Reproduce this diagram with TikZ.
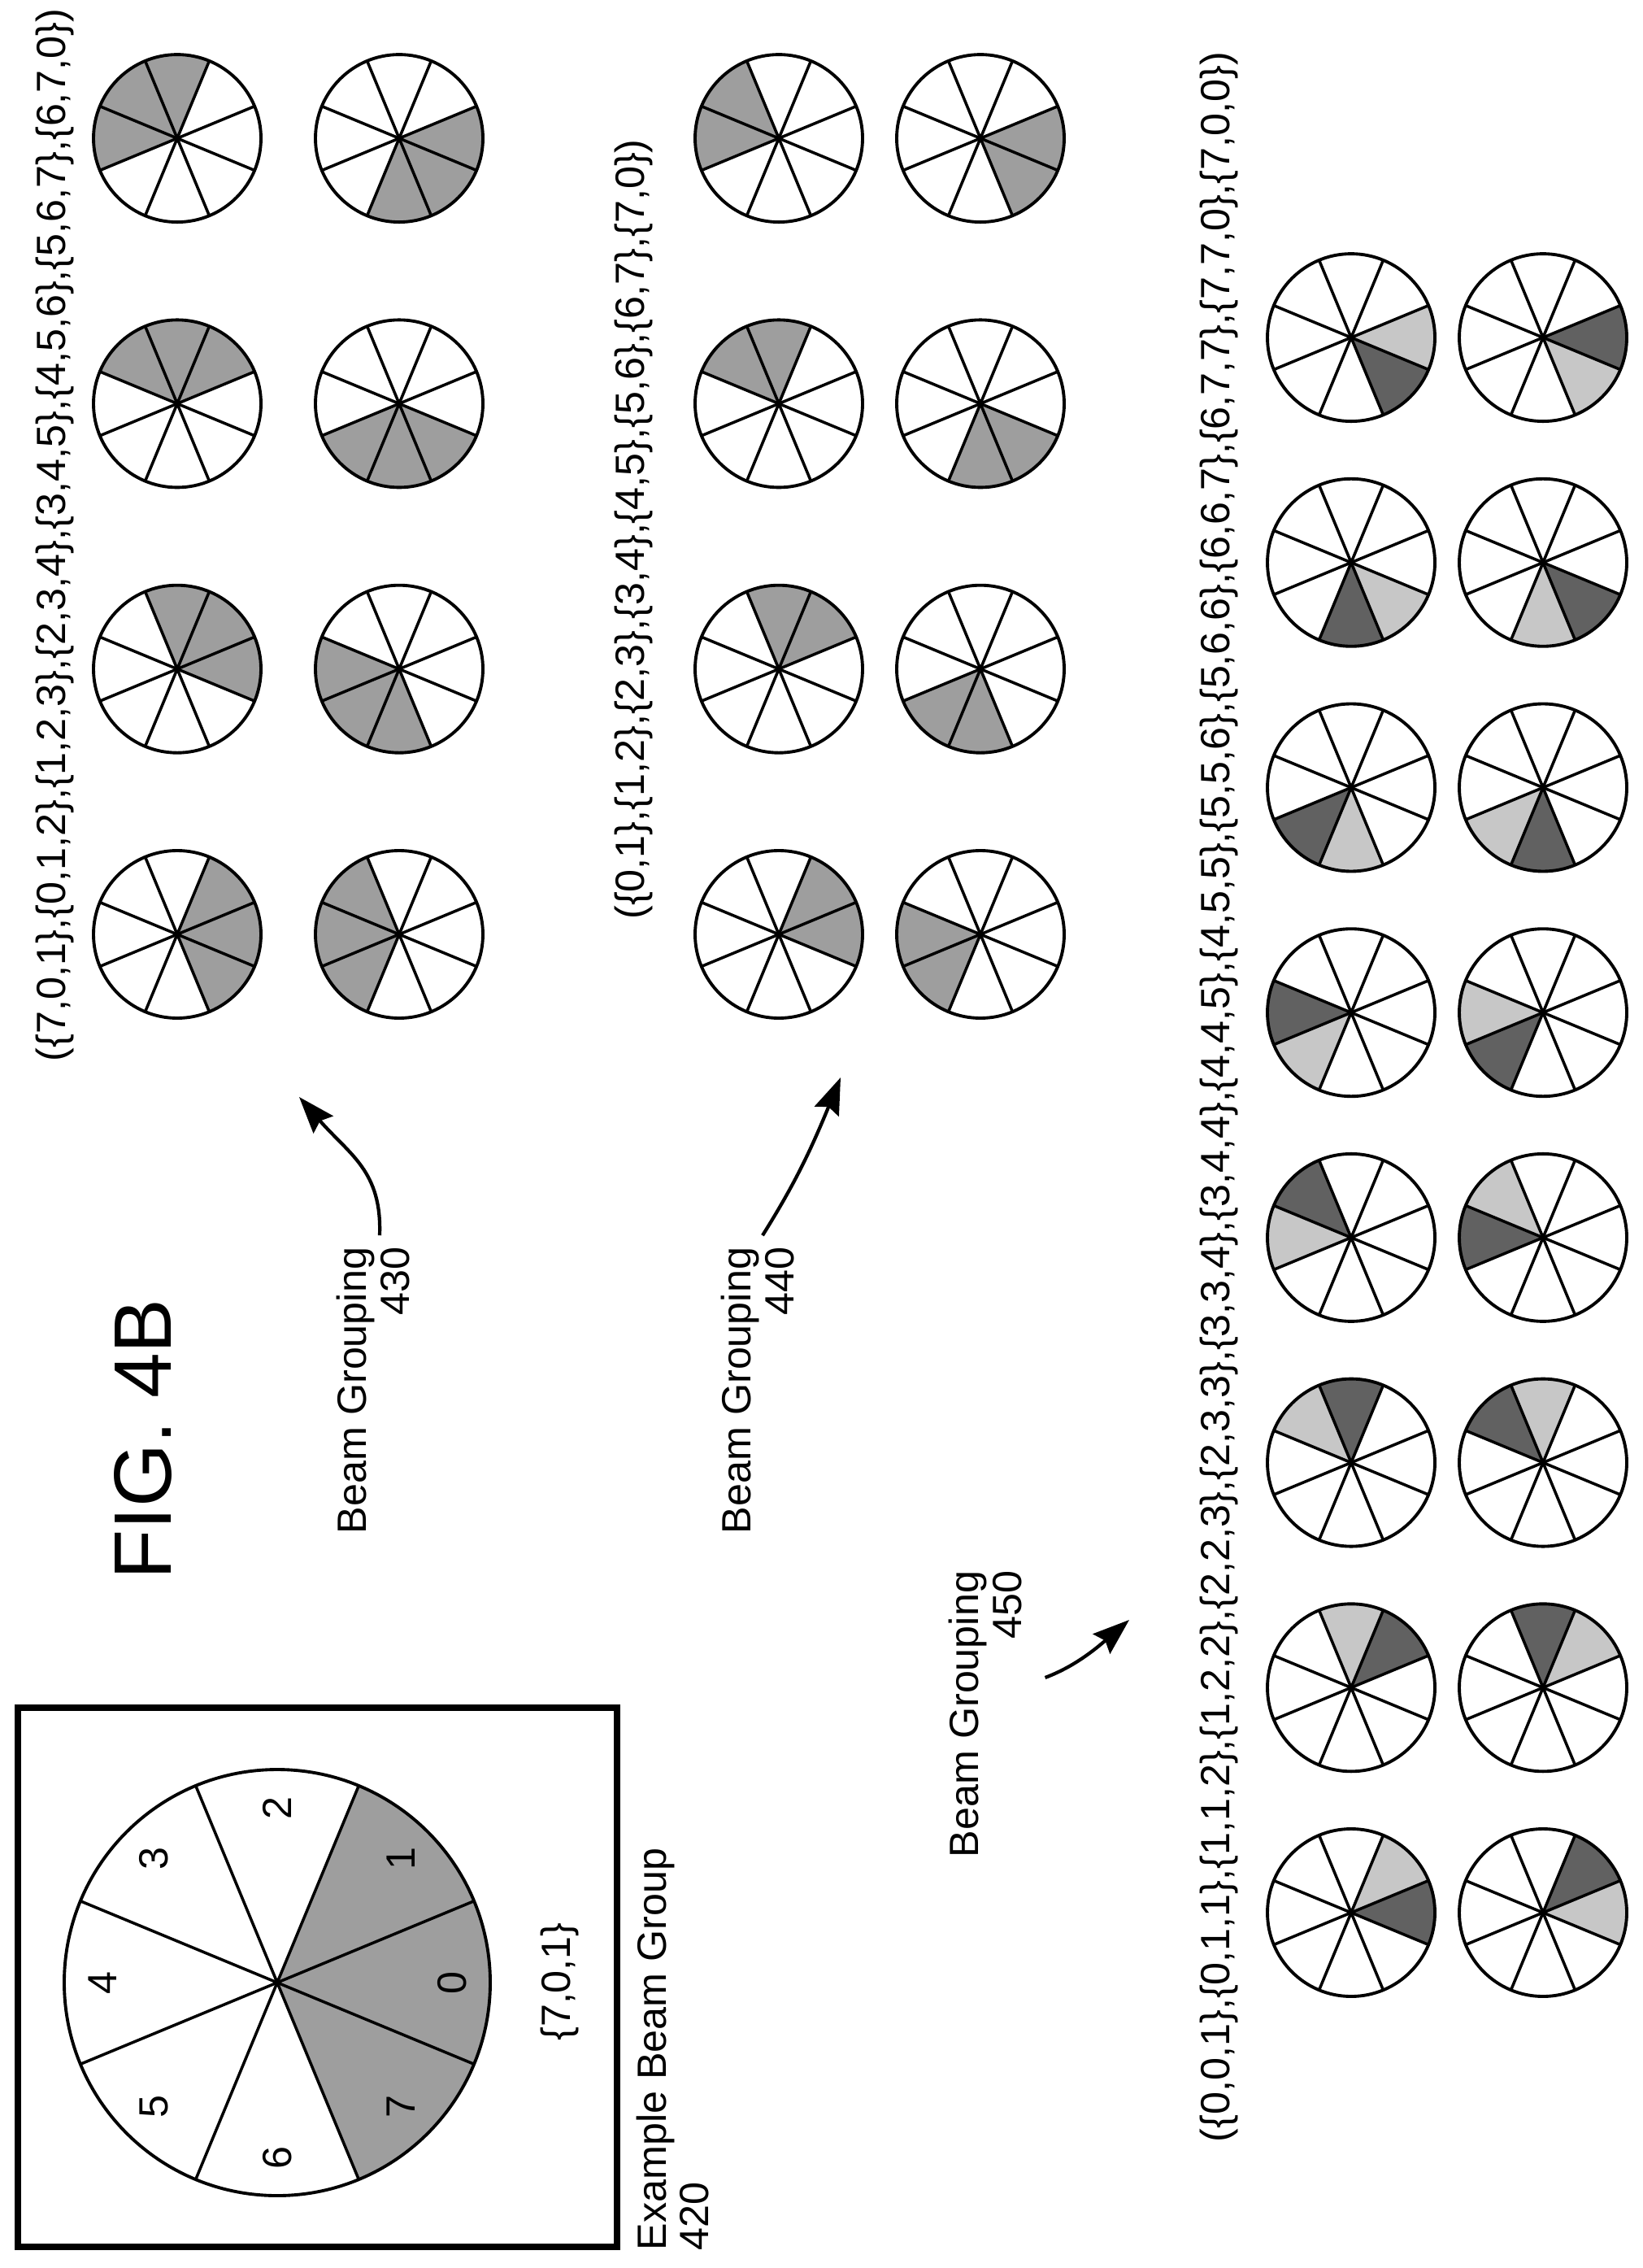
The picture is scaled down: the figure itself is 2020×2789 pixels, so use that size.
\documentclass[tikz,border=0pt]{standalone}
\usepackage{fontspec}
\setmainfont{Liberation Sans}
\usetikzlibrary{arrows.meta,positioning}
\tikzset{
    rim/.style={draw=black,line width=1.1pt},
    spoke/.style={draw=black,line width=1pt},
    mid/.style={fill=black!38},
    dark/.style={fill=black!62},
    light/.style={fill=black!22},
    frame/.style={draw=black,line width=2.3pt},
    label/.style={font=\fontsize{14.3}{15}\selectfont,rotate=90,inner sep=0pt},
    grouptext/.style={label,align=right},
    pointer/.style={line width=1.2pt,-{Stealth[length=4.5mm,width=3.2mm,inset=0.6mm]}},
}
% wheel of eight beams: centre, radius, list of sector/style
\newcommand{\beamwheel}[3]{%
  \begin{scope}[shift={#1},yscale=-1]
    \foreach \bm/\st in {#3}
      \fill[\st] (0,0) -- ({\bm*45-22.5}:#2)
        arc[start angle={\bm*45-22.5},end angle={\bm*45+22.5},radius=#2] -- cycle;
    \foreach \j in {0,...,7}
      \draw[spoke] (0,0) -- ({\j*45+22.5}:#2);
    \draw[rim] (0,0) circle[radius=#2];
  \end{scope}}

\begin{document}
\begin{tikzpicture}[x=0.01cm,y=-0.01cm]
  \useasboundingbox (0,0) rectangle (2020,2789);

  % example beam group
  \draw[frame] (22,2100) rectangle (759,2763);
  \beamwheel{(341,2438)}{262}{7/mid,0/mid,1/mid}
  \foreach \k in {0,...,7}
    \path (341,2438) ++({\k*45}:215 and -215) node[label] {\k};
  \node[label] (set) at (688,2437) {\{7,0,1\}};
  \node[label,align=left,anchor=north west] (ex) at (782,2768) {Example Beam Group\\420};

  \node[label,font=\fontsize{28.5}{30}\selectfont] (fig) at (176,1770) {FIG.\ 4B};

  % beam grouping 430
  \node[label] (l430) at (67,658) {(\{7,0,1\},\{0,1,2\},\{1,2,3\},\{2,3,4\},\{3,4,5\},\{4,5,6\},\{5,6,7\},\{6,7,0\})};
  \foreach \k in {0,...,3} {
    \pgfmathtruncatemacro{\a}{mod(\k+7,8)}
    \pgfmathtruncatemacro{\b}{\k+1}
    \pgfmathtruncatemacro{\c}{\k+3}
    \pgfmathtruncatemacro{\d}{\k+4}
    \pgfmathtruncatemacro{\e}{mod(\k+5,8)}
    \pgfmathsetmacro{\y}{1149-326.3*\k}
    \beamwheel{(218,\y)}{103}{\a/mid,\k/mid,\b/mid}
    \beamwheel{(491,\y)}{103}{\c/mid,\d/mid,\e/mid}
  }

  % beam grouping 440
  \node[label] (l440) at (779,651) {(\{0,1\},\{1,2\},\{2,3\},\{3,4\},\{4,5\},\{5,6\},\{6,7\},\{7,0\})};
  \foreach \k in {0,...,3} {
    \pgfmathtruncatemacro{\b}{\k+1}
    \pgfmathtruncatemacro{\d}{\k+4}
    \pgfmathtruncatemacro{\e}{mod(\k+5,8)}
    \pgfmathsetmacro{\y}{1149-326.3*\k}
    \beamwheel{(958,\y)}{103}{\k/mid,\b/mid}
    \beamwheel{(1206,\y)}{103}{\d/mid,\e/mid}
  }

  % beam grouping 450
  \node[label] (l450) at (1499,1349) {(\{0,0,1\},\{0,1,1\},\{1,1,2\},\{1,2,2\},\{2,2,3\},\{2,3,3\},\{3,3,4\},\{3,4,4\},\{4,4,5\},\{4,5,5\},\{5,5,6\},\{5,6,6\},\{6,6,7\},\{6,7,7\},\{7,7,0\},\{7,0,0\})};
  \foreach \k in {0,...,7} {
    \pgfmathtruncatemacro{\n}{mod(\k+1,8)}
    \pgfmathsetmacro{\y}{2352-276.7*\k}
    \beamwheel{(1662,\y)}{103}{\k/dark,\n/light}
    \beamwheel{(1898,\y)}{103}{\k/light,\n/dark}
  }

  % captions and pointers
  \node[grouptext] (b430) at (459,1710) {Beam Grouping\\430};
  \node[grouptext] (b440) at (932,1710) {Beam Grouping\\440};
  \node[grouptext] (b450) at (1212,2108) {Beam Grouping\\450};
  \coordinate (t430) at (368,1349);
  \coordinate (t440) at (1034,1325);
  \coordinate (t450) at (1389,1992);
  \draw[pointer] ([shift={(8,-14)}]b430.east) .. controls (470,1440) and (430,1420) .. (t430);
  \draw[pointer] ([shift={(6,-14)}]b440.east) .. controls (975,1460) and (995,1420) .. (t440);
  \draw[pointer] ([shift={(28,-45)}]b450.south) .. controls (1320,2050) and (1345,2030) .. (t450);
\end{tikzpicture}
\end{document}
